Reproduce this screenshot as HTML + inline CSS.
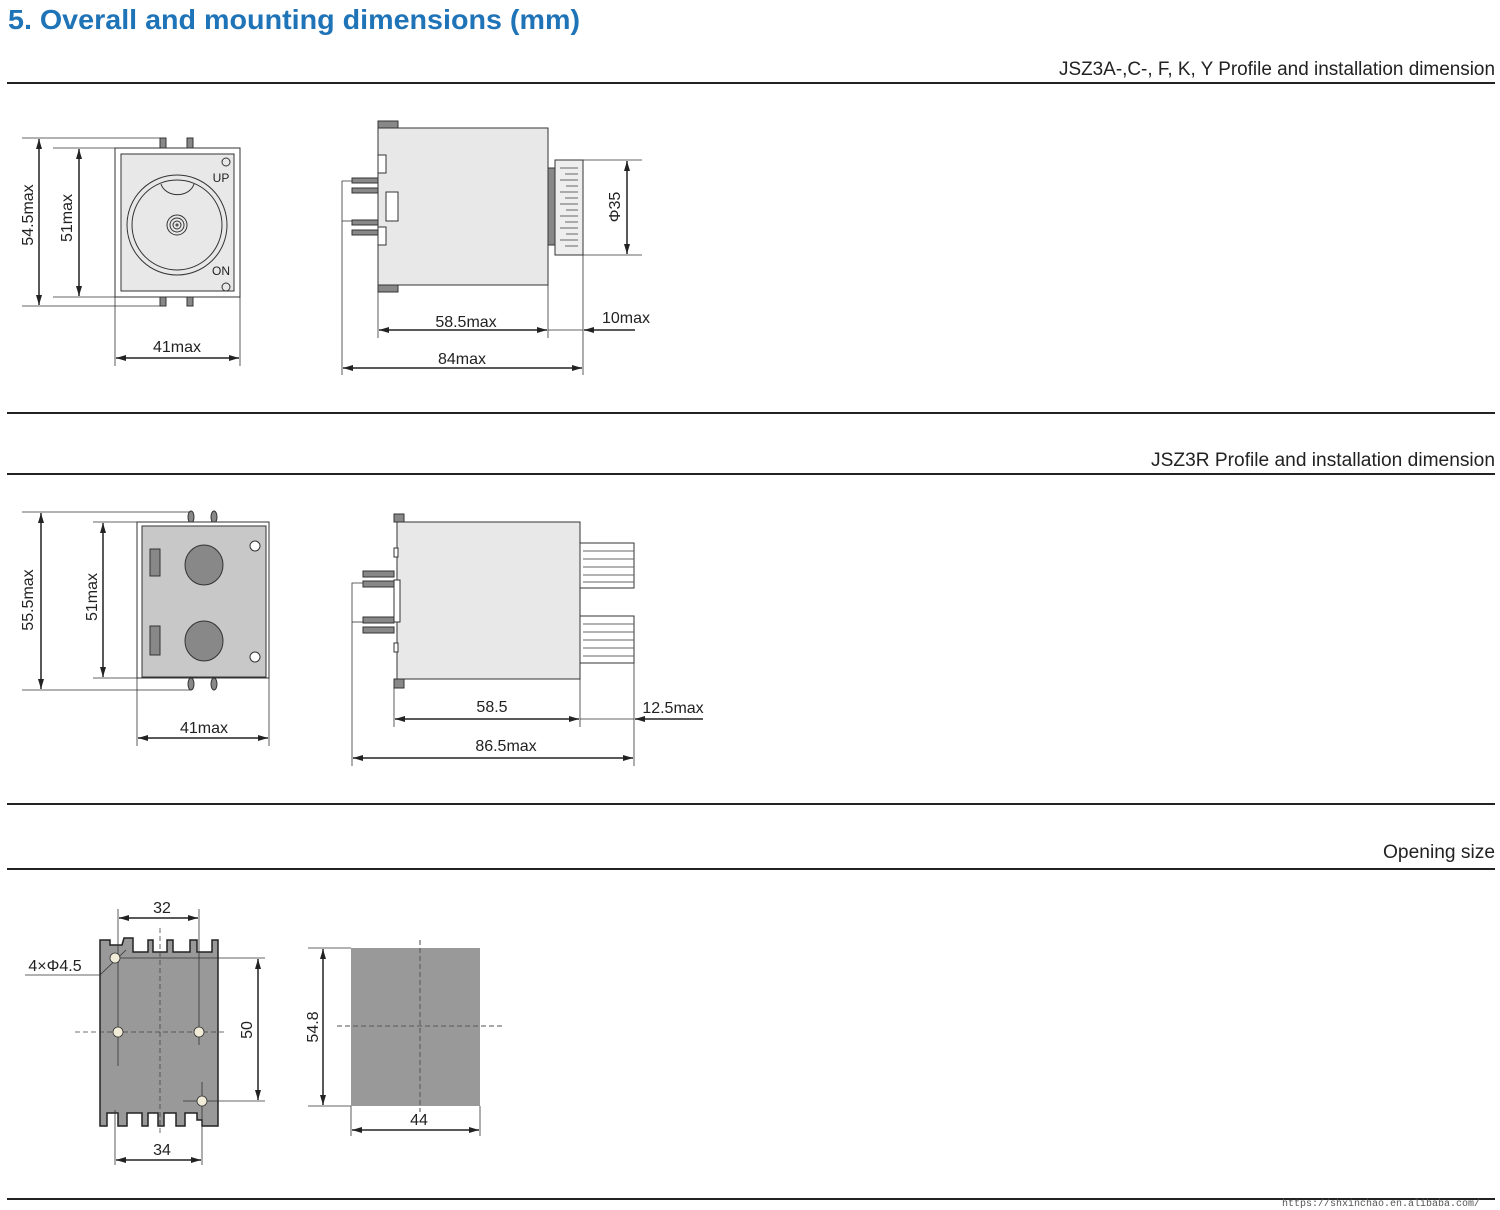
<!DOCTYPE html>
<html><head><meta charset="utf-8"><style>
html,body{margin:0;padding:0;background:#fff;}
svg{display:block;}
text{font-family:"Liberation Sans",sans-serif;fill:#222;}
</style></head><body>
<svg width="1500" height="1210" viewBox="0 0 1500 1210" xmlns="http://www.w3.org/2000/svg">
<defs>
<marker id="a" viewBox="0 0 10 6" refX="10" refY="3" markerWidth="10" markerHeight="6" orient="auto-start-reverse" markerUnits="userSpaceOnUse"><path d="M0,0L10,3L0,6z" fill="#222"/></marker>
</defs>
<text x="8" y="29" textLength="572" lengthAdjust="spacingAndGlyphs" style="font-size:28px;font-weight:bold;fill:#1f73b7">5. Overall and mounting dimensions (mm)</text>
<g stroke="#222" stroke-width="2">
<line x1="7" y1="83" x2="1495" y2="83"/><line x1="7" y1="413" x2="1495" y2="413"/>
<line x1="7" y1="474" x2="1495" y2="474"/><line x1="7" y1="804" x2="1495" y2="804"/>
<line x1="7" y1="869" x2="1495" y2="869"/><line x1="7" y1="1199" x2="1495" y2="1199"/>
</g>
<g style="font-size:19px" text-anchor="end">
<text x="1495" y="75" textLength="436" lengthAdjust="spacingAndGlyphs">JSZ3A-,C-, F, K, Y Profile and installation dimension</text>
<text x="1495" y="466" textLength="344" lengthAdjust="spacingAndGlyphs">JSZ3R Profile and installation dimension</text>
<text x="1495" y="858" textLength="112" lengthAdjust="spacingAndGlyphs">Opening size</text>
</g>
<text x="1480" y="1206" text-anchor="end" style="font-size:10px;font-family:'Liberation Mono',monospace;fill:#555">https://shxinchao.en.alibaba.com/</text>

<!-- Diagram 1 front -->
<g stroke="#333" stroke-width="1" fill="none">
<rect x="160" y="138" width="6" height="10" fill="#888"/><rect x="187" y="138" width="6" height="10" fill="#888"/>
<rect x="160" y="297" width="6" height="9" fill="#888"/><rect x="187" y="297" width="6" height="9" fill="#888"/>
<rect x="115" y="148" width="125" height="149" fill="#fff"/>
<rect x="121" y="154" width="113" height="137" fill="#e8e8e8"/>
<ellipse cx="177" cy="225" rx="50" ry="50" fill="#e8e8e8"/>
<ellipse cx="177" cy="225" rx="45" ry="45"/>
<path d="M161,184 A17,14 0 0 0 194,184"/>
<circle cx="177" cy="225" r="10"/><circle cx="177" cy="225" r="7"/><circle cx="177" cy="225" r="4"/><circle cx="177" cy="225" r="1"/>
<circle cx="226" cy="162" r="4"/><circle cx="226" cy="287" r="4"/>
</g>
<text x="221" y="182" text-anchor="middle" style="font-size:12px">UP</text>
<text x="221" y="275" text-anchor="middle" style="font-size:12px">ON</text>
<g stroke="#333" stroke-width="0.8">
<line x1="22" y1="138" x2="160" y2="138"/><line x1="22" y1="306" x2="160" y2="306"/>
<line x1="53" y1="148" x2="115" y2="148"/><line x1="53" y1="297" x2="115" y2="297"/>
<line x1="115" y1="297" x2="115" y2="366"/><line x1="240" y1="297" x2="240" y2="366"/>
</g>
<g stroke="#222" stroke-width="1.5" marker-start="url(#a)" marker-end="url(#a)">
<line x1="39" y1="139" x2="39" y2="305"/><line x1="79" y1="149" x2="79" y2="296"/>
<line x1="116" y1="358" x2="239" y2="358"/>
</g>
<text transform="translate(33,215) rotate(-90)" text-anchor="middle" style="font-size:16px">54.5max</text>
<text transform="translate(72,218) rotate(-90)" text-anchor="middle" style="font-size:16px">51max</text>
<text x="177" y="352" text-anchor="middle" style="font-size:16px">41max</text>

<!-- Diagram 1 side -->
<g stroke="#333" stroke-width="1">
<rect x="378" y="121" width="20" height="7" fill="#888"/><rect x="378" y="285" width="20" height="7" fill="#888"/>
<rect x="378" y="128" width="170" height="157" fill="#e8e8e8"/>
<rect x="352" y="178" width="26" height="5" fill="#888"/><rect x="352" y="188" width="26" height="5" fill="#888"/>
<rect x="352" y="220" width="26" height="5" fill="#888"/><rect x="352" y="230" width="26" height="5" fill="#888"/>
<rect x="378" y="155" width="8" height="18" fill="#fff"/><rect x="386" y="192" width="12" height="29" fill="#fff"/>
<rect x="378" y="227" width="8" height="18" fill="#fff"/>
<rect x="548" y="168" width="7" height="77" fill="#888"/>
<rect x="555" y="160" width="28" height="95" fill="#eee"/>
</g>
<g stroke="#666" stroke-width="1">
<line x1="560" y1="168" x2="578" y2="168"/><line x1="565" y1="174" x2="578" y2="174"/><line x1="560" y1="180" x2="578" y2="180"/>
<line x1="566" y1="186" x2="578" y2="186"/><line x1="560" y1="192" x2="578" y2="192"/><line x1="565" y1="198" x2="578" y2="198"/>
<line x1="560" y1="204" x2="578" y2="204"/><line x1="566" y1="210" x2="578" y2="210"/><line x1="560" y1="216" x2="578" y2="216"/>
<line x1="565" y1="222" x2="578" y2="222"/><line x1="560" y1="228" x2="578" y2="228"/><line x1="566" y1="234" x2="578" y2="234"/>
<line x1="560" y1="240" x2="578" y2="240"/><line x1="565" y1="246" x2="578" y2="246"/>
</g>
<g stroke="#333" stroke-width="0.8" fill="none">
<line x1="583" y1="160" x2="642" y2="160"/><line x1="583" y1="255" x2="642" y2="255"/>
<polyline points="352,181 342,181 342,375"/><line x1="342" y1="221" x2="352" y2="221"/>
<line x1="378" y1="292" x2="378" y2="338"/><line x1="548" y1="285" x2="548" y2="338"/>
<line x1="583" y1="255" x2="583" y2="375"/>
<line x1="548" y1="330" x2="583" y2="330"/>
</g>
<g stroke="#222" stroke-width="1.5">
<line x1="627" y1="161" x2="627" y2="254" marker-start="url(#a)" marker-end="url(#a)"/>
<line x1="379" y1="330" x2="547" y2="330" marker-start="url(#a)" marker-end="url(#a)"/>
<line x1="343" y1="368" x2="582" y2="368" marker-start="url(#a)" marker-end="url(#a)"/>
<line x1="635" y1="330" x2="584" y2="330" marker-end="url(#a)"/>
</g>
<text transform="translate(620,207) rotate(-90)" text-anchor="middle" style="font-size:16px">Φ35</text>
<text x="466" y="327" text-anchor="middle" style="font-size:16px">58.5max</text>
<text x="626" y="323" text-anchor="middle" style="font-size:16px">10max</text>
<text x="462" y="364" text-anchor="middle" style="font-size:16px">84max</text>

<!-- Diagram 2 front -->
<g stroke="#333" stroke-width="1">
<ellipse cx="191" cy="517" rx="3" ry="6" fill="#888"/><ellipse cx="214" cy="517" rx="3" ry="6" fill="#888"/>
<ellipse cx="191" cy="684" rx="3" ry="6" fill="#888"/><ellipse cx="214" cy="684" rx="3" ry="6" fill="#888"/>
<rect x="137" y="522" width="132" height="156" fill="#fff"/>
<rect x="142" y="526" width="124" height="151" fill="#c8c8c8"/>
<rect x="150" y="549" width="10" height="27" fill="#888"/><rect x="150" y="626" width="10" height="29" fill="#888"/>
<ellipse cx="204" cy="565" rx="19" ry="20" fill="#888"/><ellipse cx="204" cy="641" rx="19" ry="20" fill="#888"/>
<circle cx="255" cy="546" r="5" fill="#fff"/><circle cx="255" cy="657" r="5" fill="#fff"/>
</g>
<g stroke="#333" stroke-width="0.8">
<line x1="22" y1="512" x2="190" y2="512"/><line x1="22" y1="690" x2="190" y2="690"/>
<line x1="93" y1="522" x2="137" y2="522"/><line x1="93" y1="678" x2="137" y2="678"/>
<line x1="137" y1="678" x2="137" y2="746"/><line x1="269" y1="678" x2="269" y2="746"/>
</g>
<g stroke="#222" stroke-width="1.5" marker-start="url(#a)" marker-end="url(#a)">
<line x1="41" y1="513" x2="41" y2="689"/><line x1="103" y1="523" x2="103" y2="677"/>
<line x1="138" y1="738" x2="268" y2="738"/>
</g>
<text transform="translate(33,600) rotate(-90)" text-anchor="middle" style="font-size:16px">55.5max</text>
<text transform="translate(97,597) rotate(-90)" text-anchor="middle" style="font-size:16px">51max</text>
<text x="204" y="733" text-anchor="middle" style="font-size:16px">41max</text>

<!-- Diagram 2 side -->
<g stroke="#333" stroke-width="1">
<rect x="394" y="514" width="10" height="8" fill="#888"/><rect x="394" y="679" width="10" height="9" fill="#888"/>
<rect x="397" y="522" width="183" height="157" fill="#e8e8e8"/>
<rect x="363" y="571" width="31" height="6" fill="#888"/><rect x="363" y="581" width="31" height="6" fill="#888"/>
<rect x="363" y="617" width="31" height="6" fill="#888"/><rect x="363" y="627" width="31" height="6" fill="#888"/>
<rect x="394" y="580" width="6" height="42" fill="#fff"/>
<rect x="394" y="548" width="4" height="9" fill="#fff"/><rect x="394" y="643" width="4" height="9" fill="#fff"/>
<rect x="580" y="543" width="54" height="45" fill="#fff"/><rect x="580" y="616" width="54" height="47" fill="#fff"/>
</g>
<g stroke="#666" stroke-width="1">
<line x1="583" y1="551" x2="634" y2="551"/><line x1="583" y1="559" x2="634" y2="559"/><line x1="583" y1="567" x2="634" y2="567"/><line x1="583" y1="575" x2="634" y2="575"/><line x1="583" y1="582" x2="634" y2="582"/>
<line x1="583" y1="624" x2="634" y2="624"/><line x1="583" y1="632" x2="634" y2="632"/><line x1="583" y1="640" x2="634" y2="640"/><line x1="583" y1="648" x2="634" y2="648"/><line x1="583" y1="656" x2="634" y2="656"/>
</g>
<g stroke="#333" stroke-width="0.8" fill="none">
<polyline points="363,583 352,583 352,766"/><line x1="352" y1="622" x2="363" y2="622"/>
<line x1="394" y1="688" x2="394" y2="727"/><line x1="580" y1="679" x2="580" y2="727"/>
<line x1="634" y1="663" x2="634" y2="766"/><line x1="580" y1="719" x2="634" y2="719"/>
</g>
<g stroke="#222" stroke-width="1.5">
<line x1="395" y1="719" x2="579" y2="719" marker-start="url(#a)" marker-end="url(#a)"/>
<line x1="353" y1="758" x2="633" y2="758" marker-start="url(#a)" marker-end="url(#a)"/>
<line x1="703" y1="719" x2="635" y2="719" marker-end="url(#a)"/>
</g>
<text x="492" y="712" text-anchor="middle" style="font-size:16px">58.5</text>
<text x="673" y="713" text-anchor="middle" style="font-size:16px">12.5max</text>
<text x="506" y="751" text-anchor="middle" style="font-size:16px">86.5max</text>

<!-- Diagram 3 base -->
<path d="M100,940 L110,940 L110,945 L122,945 L124,938 L133,938 L133,952 L148,952 L148,940 L153,940 L153,952 L167,952 L167,940 L173,940 L173,952 L190,952 L190,940 L197,940 L197,952 L212,952 L212,940 L218,940 L218,1126 L202,1126 L202,1120 L197,1120 L197,1113 L185,1113 L185,1126 L176,1126 L176,1113 L164,1113 L164,1126 L158,1126 L158,1113 L148,1113 L148,1126 L142,1126 L142,1113 L127,1113 L127,1126 L118,1126 L118,1113 L107,1113 L107,1126 L100,1126 Z" fill="#999" stroke="#222" stroke-width="1.5"/>
<g stroke="#444" stroke-width="0.8" stroke-dasharray="5,3" fill="none">
<line x1="160" y1="928" x2="160" y2="1135"/><line x1="75" y1="1032" x2="225" y2="1032"/>
<line x1="420" y1="940" x2="420" y2="1112"/><line x1="337" y1="1026" x2="503" y2="1026"/>
</g>
<g stroke="#333" stroke-width="0.8">
<line x1="118" y1="909" x2="118" y2="1066"/><line x1="199" y1="909" x2="199" y2="1045"/>
<line x1="113" y1="958" x2="265" y2="958"/><line x1="183" y1="1101" x2="265" y2="1101"/>
<line x1="202" y1="1082" x2="202" y2="1165"/><line x1="115" y1="1110" x2="115" y2="1165"/>
<line x1="25" y1="975" x2="100" y2="975"/><line x1="100" y1="975" x2="126" y2="950"/>
</g>
<g fill="#f0ecd8" stroke="#333" stroke-width="0.8">
<circle cx="115" cy="958" r="5"/><circle cx="118" cy="1032" r="5"/><circle cx="199" cy="1032" r="5"/><circle cx="202" cy="1101" r="5"/>
</g>
<g stroke="#222" stroke-width="1.5" marker-start="url(#a)" marker-end="url(#a)">
<line x1="119" y1="918" x2="198" y2="918"/><line x1="258" y1="959" x2="258" y2="1100"/>
<line x1="116" y1="1160" x2="201" y2="1160"/>
</g>
<text x="162" y="913" text-anchor="middle" style="font-size:16px">32</text>
<text x="162" y="1155" text-anchor="middle" style="font-size:16px">34</text>
<text x="55" y="971" text-anchor="middle" style="font-size:16px">4×Φ4.5</text>
<text transform="translate(252,1030) rotate(-90)" text-anchor="middle" style="font-size:16px">50</text>

<!-- Opening square -->
<rect x="351" y="948" width="129" height="158" fill="#999"/>
<g stroke="#444" stroke-width="0.8" stroke-dasharray="5,3">
<line x1="420" y1="940" x2="420" y2="1112"/><line x1="337" y1="1026" x2="503" y2="1026"/>
</g>
<g stroke="#333" stroke-width="0.8">
<line x1="308" y1="948" x2="351" y2="948"/><line x1="308" y1="1106" x2="351" y2="1106"/>
<line x1="351" y1="1106" x2="351" y2="1136"/><line x1="480" y1="1106" x2="480" y2="1136"/>
</g>
<g stroke="#222" stroke-width="1.5" marker-start="url(#a)" marker-end="url(#a)">
<line x1="323" y1="949" x2="323" y2="1105"/><line x1="352" y1="1130" x2="479" y2="1130"/>
</g>
<text transform="translate(318,1027) rotate(-90)" text-anchor="middle" style="font-size:16px">54.8</text>
<text x="419" y="1125" text-anchor="middle" style="font-size:16px">44</text>
</svg>
</body></html>
